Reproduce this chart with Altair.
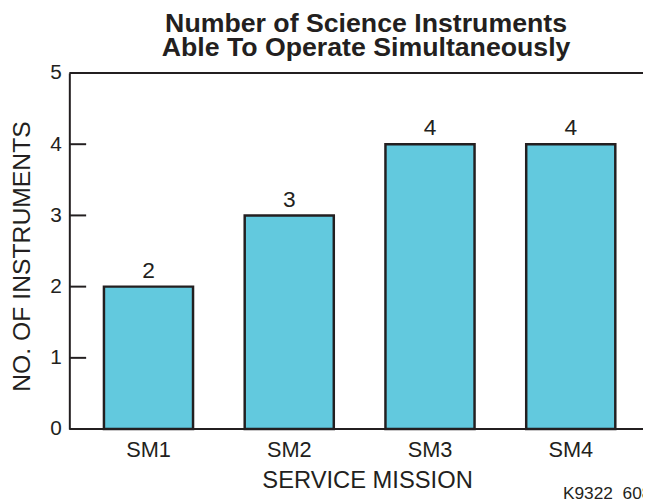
import altair as alt
import pandas as pd

missions = ["SM1", "SM2", "SM3", "SM4"]
instruments = [2, 3, 4, 4]
y_ticks = [0, 1, 2, 3, 4, 5]
inner_ticks = [1, 2, 3, 4]
frame_lines = [0, 5]
title_lines = ["Number of Science Instruments", "Able To Operate Simultaneously"]
x_title = "SERVICE MISSION"
y_title = "NO. OF INSTRUMENTS"
figure_id = "K9322_608"

FONT = "Liberation Sans"
INK = "#231f20"
FILL = "#62c9de"
W, H = 580, 360

df = pd.DataFrame({"mission": missions, "n": instruments})
ydom = alt.Scale(domain=[0, 5], nice=False, zero=True)
xscale = alt.Scale(range=[35, 552], paddingInner=0.367, paddingOuter=0)

bars = alt.Chart(df).mark_bar(fill=FILL, stroke=INK, strokeWidth=2.5).encode(
    x=alt.X(
        "mission:N", sort=missions, scale=xscale,
        axis=alt.Axis(
            title=x_title, labelAngle=0, domain=False, ticks=False,
            labelFontSize=22, labelPadding=11, labelFont=FONT, labelColor=INK,
            titleFontSize=24, titlePadding=8, titleFont=FONT, titleColor=INK,
            titleFontWeight="normal", titleX=301, titleAlign="center",
        ),
    ),
    y=alt.Y(
        "n:Q", scale=ydom,
        axis=alt.Axis(
            values=y_ticks, format="d", title=y_title, domain=True, domainColor=INK,
            domainWidth=2, ticks=False, grid=False,
            labelFontSize=21, labelPadding=8, labelFont=FONT, labelColor=INK,
            titleFontSize=25, titleFont=FONT, titleColor=INK,
            titleFontWeight="normal", titleX=-48, titleY=185,
            titleAlign="center", titleBaseline="middle", titleAngle=270,
        ),
    ),
)

labels = alt.Chart(df).mark_text(
    baseline="bottom", dy=-4, fontSize=23, font=FONT, color=INK
).encode(
    x=alt.X("mission:N", sort=missions, scale=xscale),
    y=alt.Y("n:Q", scale=ydom),
    text="n:Q",
)

tick_rules = alt.Chart(pd.DataFrame({"n": inner_ticks})).mark_rule(
    color=INK, strokeWidth=2
).encode(y=alt.Y("n:Q", scale=ydom), x=alt.value(0), x2=alt.value(17))

frame = alt.Chart(pd.DataFrame({"n": frame_lines})).mark_rule(
    color=INK, strokeWidth=2
).encode(y=alt.Y("n:Q", scale=ydom), x=alt.value(0), x2=alt.value(W))

fig_id = alt.Chart(pd.DataFrame({"t": [figure_id]})).mark_text(
    align="left", baseline="alphabetic", fontSize=17.5, font=FONT, color=INK
).encode(x=alt.value(499), y=alt.value(431), text="t:N")

chart = alt.layer(bars, labels, tick_rules, frame, fig_id).properties(
    width=W,
    height=H,
    autosize=alt.AutoSizeParams(type="none"),
    padding={"left": 62, "top": 63, "right": 0, "bottom": 68},
    title=alt.TitleParams(
        text=title_lines, fontSize=27, font=FONT, fontWeight="bold", color=INK,
        anchor="middle", frame="group", offset=0, dx=10, lineHeight=24,
    ),
).configure_view(stroke=None).configure(background="white")

chart.save("out.html", embed_options={"renderer": "svg", "actions": False})
